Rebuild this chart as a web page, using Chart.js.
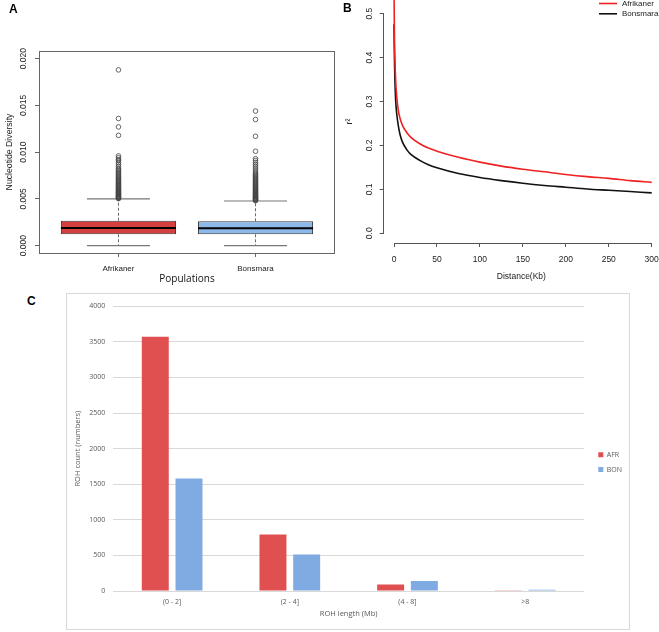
<!DOCTYPE html>
<html><head><meta charset="utf-8">
<script src="https://cdn.jsdelivr.net/npm/chart.js@4.4.1/dist/chart.umd.min.js"></script>
<style>
html,body{margin:0;padding:0;background:#fff;}
body{width:659px;height:632px;position:relative;overflow:hidden;font-family:"Liberation Sans",Arial,sans-serif;}
.panel{position:absolute;}
.plabel{position:absolute;font:bold 12px/12px "Liberation Sans",Arial,sans-serif;color:#000;}
#frameC{position:absolute;left:66px;top:293px;width:564px;height:337px;border:1px solid #d9d9d9;box-sizing:border-box;}
#frameC canvas{position:absolute;left:0;top:0;}
</style></head><body>
<div class="panel" style="left:0;top:0;width:340px;height:290px"><canvas id="chartA" width="340" height="290"></canvas></div>
<div class="panel" style="left:340px;top:0;width:319px;height:290px"><canvas id="chartB" width="319" height="290"></canvas></div>
<div id="frameC"><canvas id="chartC" width="562" height="335"></canvas></div>
<div class="plabel" style="left:9px;top:3px">A</div>
<div class="plabel" style="left:343px;top:2px">B</div>
<div class="plabel" style="left:27px;top:295px">C</div>
<script>
// ---------- Panel A: nucleotide diversity boxplots ----------
const popCategories = ['Afrikaner', 'Bonsmara'];
const boxMin = [0.0000, 0.0000];
const boxQ1 = [0.00122, 0.00122];
const boxMedian = [0.00189, 0.00186];
const boxQ3 = [0.00267, 0.00261];
const boxMax = [0.00500, 0.00478];
const outliersAfrikaner = [0.00503, 0.00508, 0.00513, 0.00518, 0.00523, 0.00528, 0.00534, 0.0054, 0.00546, 0.00552,
  0.00558, 0.00564, 0.0057, 0.00577, 0.00584, 0.00591, 0.00598, 0.00605, 0.00612, 0.0062, 0.00628, 0.00636,
  0.00644, 0.00652, 0.0066, 0.00669, 0.00678, 0.00687, 0.00696, 0.00705, 0.00715, 0.00725, 0.00735, 0.00745,
  0.00756, 0.00767, 0.00778, 0.0079, 0.00802, 0.00815, 0.0083, 0.0085, 0.0087, 0.0089, 0.0091, 0.0092, 0.0094,
  0.0096, 0.0118, 0.0127, 0.0136, 0.0188];
const outliersBonsmara = [0.00481, 0.00486, 0.00491, 0.00496, 0.00501, 0.00507, 0.00513, 0.00519, 0.00525, 0.00531,
  0.00537, 0.00543, 0.0055, 0.00557, 0.00564, 0.00571, 0.00578, 0.00585, 0.00592, 0.006, 0.00608, 0.00616,
  0.00624, 0.00632, 0.0064, 0.00649, 0.00658, 0.00667, 0.00676, 0.00686, 0.00696, 0.00706, 0.00716, 0.00727,
  0.00738, 0.0075, 0.00762, 0.00775, 0.0079, 0.0081, 0.0083, 0.0085, 0.0087, 0.0089, 0.0091, 0.0093,
  0.0101, 0.0117, 0.0135, 0.0144];
const diversityTicks = [0.000, 0.005, 0.010, 0.015, 0.020];

// ---------- Panel B: LD decay ----------
const ldDistanceKb = [0, 0.5, 1, 2, 3, 5, 7, 10, 15, 20, 30, 40, 50, 75, 100, 125, 150, 175, 200, 225, 250, 275, 300];
const ldAfrikaner = [0.56, 0.45, 0.40, 0.345, 0.315, 0.28, 0.262, 0.245, 0.229, 0.218, 0.204, 0.194, 0.187, 0.173,
  0.162, 0.153, 0.146, 0.140, 0.134, 0.129, 0.125, 0.120, 0.116];
const ldBonsmara = [0.476, 0.40, 0.35, 0.30, 0.275, 0.245, 0.225, 0.207, 0.190, 0.179, 0.166, 0.156, 0.149, 0.136,
  0.127, 0.120, 0.114, 0.109, 0.105, 0.101, 0.098, 0.095, 0.092];
const distanceTicks = [0, 50, 100, 150, 200, 250, 300];
const r2Ticks = [0.0, 0.1, 0.2, 0.3, 0.4, 0.5];

// ---------- Panel C: ROH counts ----------
const rohCategories = ['(0 - 2]', '(2 - 4]', '(4 - 8]', '>8'];
const rohAFR = [3570, 792, 93, 12];
const rohBON = [1581, 514, 139, 18];
const rohTicks = [0, 500, 1000, 1500, 2000, 2500, 3000, 3500, 4000];

Chart.defaults.animation = false;
Chart.defaults.devicePixelRatio = 1;
Chart.defaults.font.family = '"Liberation Sans", Arial, sans-serif';

// ---- helper plugins ----
const framePlugin = {
  id: 'frame',
  afterDraw(chart, args, opts) {
    if (!opts || !opts.display) return;
    const a = chart.chartArea, ctx = chart.ctx;
    ctx.save(); ctx.strokeStyle = opts.color; ctx.lineWidth = 1;
    ctx.strokeRect(Math.round(a.left) + 0.5, Math.round(a.top) + 0.5, Math.round(a.right - a.left) - 1, Math.round(a.bottom - a.top));
    ctx.restore();
  }
};
const rotYTicksPlugin = {
  id: 'rotYTicks',
  afterDraw(chart, args, opts) {
    if (!opts || !opts.display) return;
    const s = chart.scales.y, ctx = chart.ctx;
    ctx.save(); ctx.font = opts.font; ctx.fillStyle = opts.color;
    ctx.textAlign = 'center'; ctx.textBaseline = 'middle';
    s.ticks.forEach((t) => {
      const y = s.getPixelForValue(t.value);
      ctx.save(); ctx.translate(chart.chartArea.left - opts.offset, y); ctx.rotate(-Math.PI / 2);
      ctx.fillText(t.value.toFixed(opts.decimals), 0, 0); ctx.restore();
    });
    ctx.restore();
  }
};
const rAxesPlugin = {
  id: 'rAxes',
  afterDraw(chart, args, opts) {
    if (!opts || !opts.display) return;
    const xs = chart.scales.x, ys = chart.scales.y, a = chart.chartArea, ctx = chart.ctx;
    ctx.save(); ctx.strokeStyle = opts.color; ctx.lineWidth = 1; ctx.beginPath();
    const bx = Math.round(a.bottom) + 0.5, lx = Math.round(a.left) - 0.5;
    ctx.moveTo(xs.getPixelForValue(xs.ticks[0].value), bx);
    ctx.lineTo(xs.getPixelForValue(xs.ticks[xs.ticks.length - 1].value), bx);
    ctx.moveTo(lx, ys.getPixelForValue(ys.ticks[0].value));
    ctx.lineTo(lx, ys.getPixelForValue(ys.ticks[ys.ticks.length - 1].value));
    ctx.stroke(); ctx.restore();
  }
};
const rLegendPlugin = {
  id: 'rLegend',
  afterDraw(chart, args, opts) {
    if (!opts || !opts.display) return;
    const ctx = chart.ctx;
    ctx.save(); ctx.font = opts.font; ctx.textBaseline = 'middle'; ctx.textAlign = 'left';
    chart.data.datasets.forEach((ds, i) => {
      const y = opts.y + i * opts.rowGap;
      ctx.strokeStyle = ds.borderColor; ctx.lineWidth = ds.borderWidth;
      ctx.beginPath(); ctx.moveTo(opts.x, y); ctx.lineTo(opts.x + opts.lineLen, y); ctx.stroke();
      ctx.fillStyle = opts.color; ctx.fillText(ds.label, opts.x + opts.lineLen + opts.gap, y);
    });
    ctx.restore();
  }
};
const noSidePad = (h) => (s) => { s.height = h; s.paddingLeft = 0; s.paddingRight = 0; };

// ---------------- Chart A ----------------
const boxHalf = 0.42, capHalf = 0.23;
const gapPoint = (i) => ({ x: i + 1.5, y: null });
const medianData = popCategories.flatMap((c, i) => [
  { x: i + 1 - boxHalf, y: boxMedian[i] }, { x: i + 1 + boxHalf, y: boxMedian[i] }, gapPoint(i)]);
const whiskerData = popCategories.flatMap((c, i) => [
  { x: i + 1, y: boxQ3[i] }, { x: i + 1, y: boxMax[i] }, gapPoint(i),
  { x: i + 1, y: boxQ1[i] }, { x: i + 1, y: boxMin[i] }, gapPoint(i)]);
const capData = popCategories.flatMap((c, i) => [
  { x: i + 1 - capHalf, y: boxMax[i] }, { x: i + 1 + capHalf, y: boxMax[i] }, gapPoint(i),
  { x: i + 1 - capHalf, y: boxMin[i] }, { x: i + 1 + capHalf, y: boxMin[i] }, gapPoint(i)]);
const outlierSets = [outliersAfrikaner, outliersBonsmara];

new Chart(document.getElementById('chartA'), {
  type: 'bar',
  data: {
    datasets: [
      { type: 'line', label: 'median', data: medianData, borderColor: '#000', borderWidth: 2, pointRadius: 0, spanGaps: false, order: 0 },
      ...outlierSets.map((arr, i) => ({
        type: 'scatter', label: popCategories[i] + ' outliers', data: arr.map(v => ({ x: i + 1, y: v })),
        pointRadius: 2.3, pointBorderWidth: 0.8, borderColor: '#444', backgroundColor: 'rgba(0,0,0,0)', order: 1
      })),
      { type: 'line', label: 'caps', data: capData, borderColor: '#777', borderWidth: 1.2, pointRadius: 0, spanGaps: false, order: 2 },
      { type: 'line', label: 'whiskers', data: whiskerData, borderColor: '#666', borderWidth: 1, borderDash: [3, 2], pointRadius: 0, spanGaps: false, order: 3 },
      {
        type: 'bar', label: 'IQR', data: popCategories.map((c, i) => ({ x: i + 1, y: [boxQ1[i], boxQ3[i]] })),
        backgroundColor: ['#D43F3F', '#8DB8EA'], borderColor: '#3a3a3a', borderWidth: 1, borderSkipped: false,
        barPercentage: 0.84, categoryPercentage: 1, grouped: false, order: 4
      }
    ]
  },
  options: {
    responsive: false,
    layout: { padding: { top: 51, right: 5, left: 0, bottom: 0 } },
    plugins: {
      legend: { display: false }, tooltip: { enabled: false },
      frame: { display: true, color: '#666' },
      rotYTicks: { display: true, offset: 15, decimals: 3, font: '8.5px "Liberation Sans", Arial, sans-serif', color: '#222' }
    },
    scales: {
      x: {
        type: 'linear', min: 0.42, max: 2.58, offset: false,
        afterBuildTicks: s => { s.ticks = popCategories.map((c, i) => ({ value: i + 1 })); },
        afterFit: noSidePad(37),
        ticks: { callback: v => popCategories[v - 1], autoSkip: false, maxRotation: 0, font: { size: 8 }, color: '#222', padding: 7 },
        grid: { offset: false, drawOnChartArea: false, drawTicks: true, tickLength: 4, color: '#666' },
        border: { display: false },
        title: { display: true, text: 'Populations', font: { family: '"Open Sans", sans-serif', size: 10 }, color: '#111', padding: { top: 0, bottom: 5 } }
      },
      y: {
        type: 'linear', min: -0.00078, max: 0.02082,
        afterBuildTicks: s => { s.ticks = diversityTicks.map(v => ({ value: v })); },
        afterFit: s => { s.width = 39; },
        ticks: { display: false },
        grid: { drawOnChartArea: false, drawTicks: true, tickLength: 4, color: '#666' },
        border: { display: false },
        title: { display: true, text: 'Nucleotide Diversity', font: { size: 8.7 }, color: '#222', padding: { top: 4.8, bottom: 0 } }
      }
    }
  },
  plugins: [framePlugin, rotYTicksPlugin]
});

// ---------------- Chart B ----------------
new Chart(document.getElementById('chartB'), {
  type: 'line',
  data: {
    datasets: [
      { label: 'Afrikaner', data: ldDistanceKb.map((d, i) => ({ x: d, y: ldAfrikaner[i] })), borderColor: '#EE2222', borderWidth: 1.6, pointRadius: 0, cubicInterpolationMode: 'monotone' },
      { label: 'Bonsmara', data: ldDistanceKb.map((d, i) => ({ x: d, y: ldBonsmara[i] })), borderColor: '#111111', borderWidth: 1.6, pointRadius: 0, cubicInterpolationMode: 'monotone' }
    ]
  },
  options: {
    responsive: false,
    layout: { padding: 0 },
    plugins: {
      legend: { display: false }, tooltip: { enabled: false },
      rAxes: { display: true, color: '#555' },
      rotYTicks: { display: true, offset: 13.7, decimals: 1, font: '8.5px "Liberation Sans", Arial, sans-serif', color: '#222' },
      rLegend: { display: true, x: 259, y: 3.5, rowGap: 10.3, lineLen: 18, gap: 5, font: '8px "Liberation Sans", Arial, sans-serif', color: '#222' }
    },
    scales: {
      x: {
        type: 'linear', min: -12, max: 308.5,
        afterBuildTicks: s => { s.ticks = distanceTicks.map(v => ({ value: v })); },
        afterFit: noSidePad(47),
        ticks: { autoSkip: false, maxRotation: 0, font: { size: 8.5 }, color: '#222', padding: 8 },
        grid: { drawOnChartArea: false, drawTicks: true, tickLength: 4, color: '#555' },
        border: { display: false },
        title: { display: true, text: 'Distance(Kb)', font: { size: 8.5 }, color: '#222', padding: { top: 0, bottom: 7.9 } }
      },
      y: {
        type: 'linear', min: -0.0221, max: 0.5312,
        afterBuildTicks: s => { s.ticks = r2Ticks.map(v => ({ value: v })); },
        afterFit: s => { s.width = 43.7; },
        ticks: { display: false },
        grid: { drawOnChartArea: false, drawTicks: true, tickLength: 4, color: '#555' },
        border: { display: false },
        title: { display: true, text: 'r²', font: { size: 9 }, color: '#222', padding: { top: 3.9, bottom: 0 } }
      }
    }
  },
  plugins: [rAxesPlugin, rotYTicksPlugin, rLegendPlugin]
});

// ---------------- Chart C ----------------
const cFont = '"Open Sans", "Liberation Sans", sans-serif';
new Chart(document.getElementById('chartC'), {
  type: 'bar',
  data: {
    labels: rohCategories,
    datasets: [
      { label: 'AFR', data: rohAFR, backgroundColor: '#E05050', categoryPercentage: 0.573, barPercentage: 0.8 },
      { label: 'BON', data: rohBON, backgroundColor: '#80AAE2', categoryPercentage: 0.573, barPercentage: 0.8 }
    ]
  },
  options: {
    responsive: false,
    layout: { padding: { top: 9.3, right: 0, left: 0, bottom: 8 } },
    plugins: {
      tooltip: { enabled: false },
      legend: {
        position: 'right', align: 'center', maxWidth: 38.4,
        labels: { boxWidth: 5, boxHeight: 5, padding: 7.7, font: { family: cFont, size: 7 }, color: '#595959' }
      }
    },
    scales: {
      x: {
        afterFit: s => { s.height = 30; },
        ticks: { font: { family: cFont, size: 7 }, color: '#595959', padding: 7, maxRotation: 0 },
        grid: { display: false, drawTicks: false },
        border: { display: false },
        title: { display: true, text: 'ROH length (Mb)', font: { family: cFont, size: 7.5 }, color: '#595959', padding: { top: 0, bottom: 2.5 } }
      },
      y: {
        min: 0, max: 4000,
        afterBuildTicks: s => { s.ticks = rohTicks.map(v => ({ value: v })); },
        afterFit: s => { s.width = 46.3; },
        ticks: { callback: v => String(v), font: { family: cFont, size: 7 }, color: '#595959', padding: 8 },
        grid: { color: '#d9d9d9', drawTicks: false },
        border: { display: false },
        title: { display: true, text: 'ROH count (numbers)', font: { family: cFont, size: 7.5 }, color: '#595959', padding: { top: 6.5, bottom: 0 } }
      },
      gap: {
        type: 'linear', position: 'right', display: true,
        afterFit: s => { s.width = 6.6; },
        ticks: { display: false }, grid: { display: false, drawTicks: false }, border: { display: false }
      }
    }
  }
});
</script>
</body></html>
